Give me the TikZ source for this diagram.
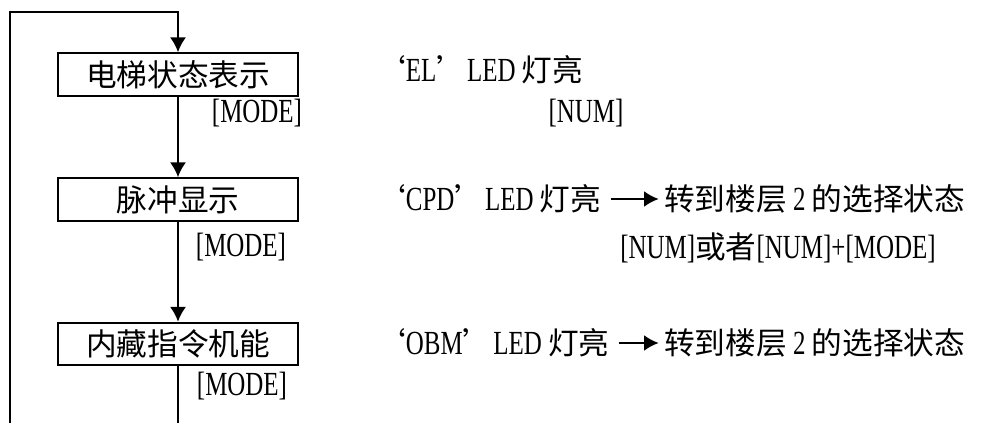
\documentclass[tikz,border=0pt]{standalone}
\usepackage{fontspec}
\setmainfont{Liberation Serif}[FakeStretch=0.74, Scale=1.1]
\newfontfamily\cjk{Noto Sans CJK SC}
\usetikzlibrary{arrows.meta,positioning}

\begin{document}
\begin{tikzpicture}[x=0.75pt, y=-0.75pt, font=\fontsize{23}{27}\selectfont]
\tikzset{
    mybox/.style={rectangle, draw=black, line width=1.5pt, minimum width=180pt, minimum height=32pt, inner sep=0pt, text centered},
    myarrow/.style={-{Latex[length=11pt,width=12pt]}, line width=1.5pt},
    myline/.style={line width=1.5pt},
    mylabel/.style={inner sep=0pt},
    mytext/.style={inner sep=0pt, anchor=west}
}
\useasboundingbox (0,0) rectangle (990,423);

% the three states
\node[mybox] (elev) at (178,74.5) {\cjk 电梯状态表示};
\node[mybox] (pulse) at (178,199.5) {\cjk 脉冲显示};
\node[mybox] (obm) at (178,344) {\cjk 内藏指令机能};

\node[mylabel] (mode1) at (257,113) {[MODE]};
\node[mylabel] (mode2) at (241,247) {[MODE]};
\node[mylabel] (mode3) at (242,386) {[MODE]};

% what the LEDs show
\node[mytext] (led1) at (375,70) {{\cjk ‘}EL{\cjk ’}LED {\cjk 灯亮}};
\node[mylabel] (num1) at (586,113) {[NUM]};
\node[mytext] (led2) at (375,199) {{\cjk ‘}CPD{\cjk ’}LED {\cjk 灯亮}};
\node[mytext] (floor2) at (664,199) {{\cjk 转到楼层} 2 {\cjk 的选择状态}};
\node[mylabel] (num2) at (778,248) {[NUM]{\cjk 或者}[NUM]+[MODE]};
\node[mytext] (led3) at (375,343) {{\cjk ‘}OBM{\cjk ’}LED {\cjk 灯亮}};
\node[mytext] (floor3) at (664,343) {{\cjk 转到楼层} 2 {\cjk 的选择状态}};

\coordinate (topL) at (10,12);
\coordinate (botL) at (10,423);
\coordinate (botM) at (obm.south |- botL);

\draw[myarrow] (botL) -- (topL) -| (elev.north);
\draw[myarrow] (elev) -- (pulse);
\draw[myarrow] (pulse) -- (obm);
\draw[myline] (obm) -- (botM);

\draw[myarrow, shorten <=7pt, shorten >=4pt] (led2) -- (floor2);
\draw[myarrow, shorten <=7pt, shorten >=4pt] (led3) -- (floor3);
\end{tikzpicture}
\end{document}
